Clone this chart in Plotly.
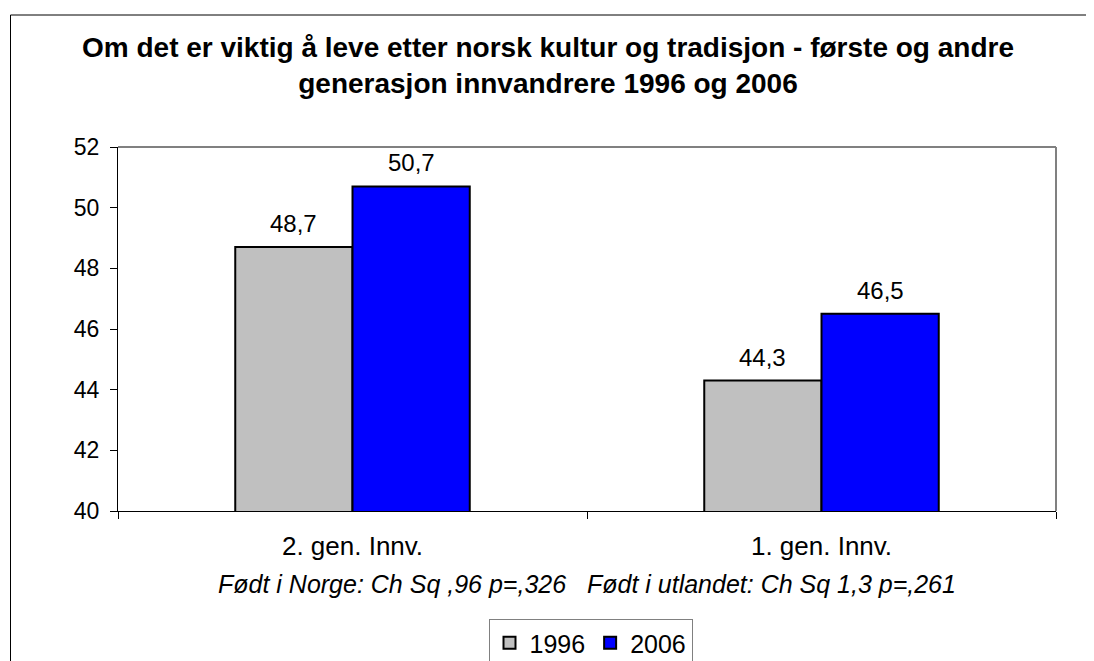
import plotly.graph_objects as go

categories = ["2. gen. Innv.", "1. gen. Innv."]
series_names = ["1996", "2006"]
values_1996 = [48.7, 44.3]
values_2006 = [50.7, 46.5]
colors = ["#C0C0C0", "#0000FF"]

title_text = ("Om det er viktig å leve etter norsk kultur og tradisjon - første og andre<br>"
              "generasjon innvandrere 1996 og 2006")
note_text = "Født i Norge: Ch Sq ,96 p=,326   Født i utlandet: Ch Sq 1,3 p=,261"

FONT = "Arial, 'Liberation Sans', sans-serif"

OFF = 8  # page body margin
W, H = 1094 - OFF, 661 - OFF
# target coordinates in screen pixels (reference)
L, R, T, B = 118, 1056, 147, 511
pw, ph = R - L, B - T

def px(x):
    return (x - L) / pw

def py(y):
    return (B - y) / ph

fig = go.Figure()
series_vals = [values_1996, values_2006]
for name, vals, col in zip(series_names, series_vals, colors):
    fig.add_trace(go.Bar(
        x=categories, y=vals, name=name,
        marker=dict(color=col, line=dict(color="black", width=2)),
    ))

bar_px = pw / len(categories) * 0.5 / len(series_names)
for i, vals in enumerate(series_vals):
    for cat, v in zip(categories, vals):
        fig.add_annotation(x=cat, y=v, xref="x", yref="y",
                           text=f"{v:.1f}".replace(".", ","),
                           showarrow=False, yanchor="bottom",
                           xshift=(i - (len(series_names) - 1) / 2) * bar_px,
                           yshift=8,
                           font=dict(size=24, color="black", family=FONT))

fig.update_layout(
    width=W, height=H,
    margin=dict(l=L - OFF, r=W - (R - OFF), t=T - OFF, b=H - (B - OFF),
                autoexpand=False),
    paper_bgcolor="white", plot_bgcolor="white",
    barmode="group", bargap=0.5, bargroupgap=0,
    font=dict(family=FONT, color="black"),
    showlegend=True,
    legend=dict(orientation="h", x=px(590.5), xanchor="center",
                y=py(619), yanchor="top",
                bordercolor="#808080", borderwidth=1,
                font=dict(size=25, color="black"),
                itemwidth=30, traceorder="normal"),
)

fig.add_annotation(text=title_text, xref="paper", yref="paper",
                   x=px(548), y=py(29.5), xanchor="center", yanchor="top",
                   showarrow=False,
                   font=dict(size=28, family=FONT, color="black", weight="bold"))

fig.update_yaxes(range=[40, 52], dtick=2, tick0=40,
                 showline=True, linecolor="black", linewidth=1,
                 ticks="outside", ticklen=7, tickcolor="black",
                 ticklabelstandoff=6, automargin=False,
                 showgrid=False, zeroline=False,
                 tickfont=dict(size=23, color="black"))
fig.update_xaxes(showline=True, linecolor="black", linewidth=1,
                 ticks="outside", ticklen=7, tickcolor="black",
                 tickson="boundaries", showgrid=False,
                 ticklabelstandoff=12, automargin=False,
                 tickfont=dict(size=26, color="black"))

# gray plot border on top and right
fig.add_shape(type="line", xref="paper", yref="paper", x0=0, x1=1, y0=1, y1=1,
              line=dict(color="#808080", width=2))
fig.add_shape(type="line", xref="paper", yref="paper", x0=1, x1=1, y0=0, y1=1,
              line=dict(color="#808080", width=2))

# outer chart frame
fig.add_shape(type="rect", xref="paper", yref="paper",
              x0=px(10.5), x1=px(1120), y0=py(700), y1=py(15),
              line=dict(color="black", width=1))

fig.add_annotation(text=note_text, xref="paper", yref="paper",
                   x=px(587), y=py(584), xanchor="center", yanchor="middle",
                   showarrow=False,
                   font=dict(size=25, color="black", family=FONT, style="italic"))

fig.write_html("out.html")
